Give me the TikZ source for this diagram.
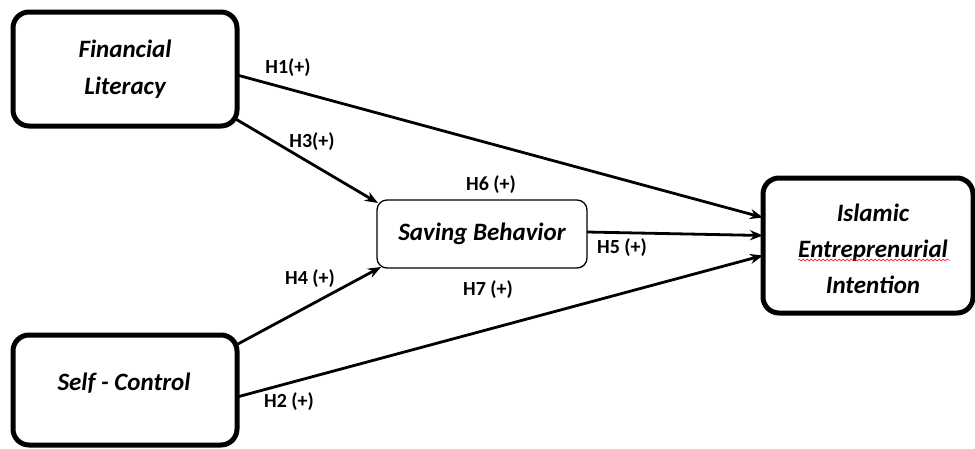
\documentclass[tikz,border=0pt]{standalone}
\usepackage{fontspec}
\setmainfont{Carlito}
\usetikzlibrary{arrows.meta,calc,decorations.pathmorphing}
\begin{document}
\begin{tikzpicture}[x=1pt,y=-1pt,
  bigbox/.style={draw,line width=5pt,rounded corners=16pt,outer sep=0pt,align=center,font=\fontsize{25}{37}\selectfont\bfseries\itshape},
  smallbox/.style={draw,line width=1.3pt,rounded corners=10pt,outer sep=0pt,align=center,font=\fontsize{25}{30}\selectfont\bfseries\itshape},
  conn/.style={line width=2.8pt,-{Stealth[length=13pt,width=10pt]}},
  hlab/.style={font=\fontsize{20}{22}\selectfont\bfseries,inner sep=0pt}]
\useasboundingbox (0,0) rectangle (975,448);
\node[bigbox,minimum width=224pt,minimum height=114pt] (FL) at (125,69) {Financial\\Literacy};
\node[bigbox,minimum width=224pt,minimum height=110pt] (SC) at (125,390) {};
\node[font=\fontsize{25}{30}\selectfont\bfseries\itshape] (SCt) at (124,383) {Self - Control};
\node[smallbox,minimum width=210pt,minimum height=68pt] (SB) at (482,234) {Saving Behavior};
\node[bigbox,minimum width=210pt,minimum height=135pt] (IE) at (868,245.5) {};
\node[font=\fontsize{25}{36}\selectfont\bfseries\itshape,align=center] (IEt) at (873,249) {Islamic\\Entreprenurial\\Intention};
\coordinate (sqa) at (798,260);
\coordinate (sqb) at (950,260);
\draw[red,line width=0.5pt,decorate,decoration={snake,amplitude=1pt,segment length=4pt}] (sqa) -- (sqb);
\draw[conn] ($(FL.east)+(0,6)$) -- ($(IE.west)+(0,-28)$);
\draw[conn] ($(FL.south east)+(-3,-8)$) -- ($(SB.north west)+(1,3)$);
\draw[conn] ($(SC.north east)+(-1,10)$) -- ($(SB.south west)+(4,-1)$);
\draw[conn] ($(SB.east)+(0,-2)$) -- ($(IE.west)+(0,-10)$);
\draw[conn] ($(SC.east)+(0,7)$) -- ($(IE.west)+(0,10)$);
\node[hlab] (h1) at (288,68) {H1(+)};
\node[hlab] (h3) at (312,142) {H3(+)};
\node[hlab] (h6) at (491,185) {H6 (+)};
\node[hlab] (h5) at (622,248) {H5 (+)};
\node[hlab] (h7) at (488,290) {H7 (+)};
\node[hlab] (h4) at (310,279) {H4 (+)};
\node[hlab] (h2) at (289,402) {H2 (+)};
\end{tikzpicture}
\end{document}
